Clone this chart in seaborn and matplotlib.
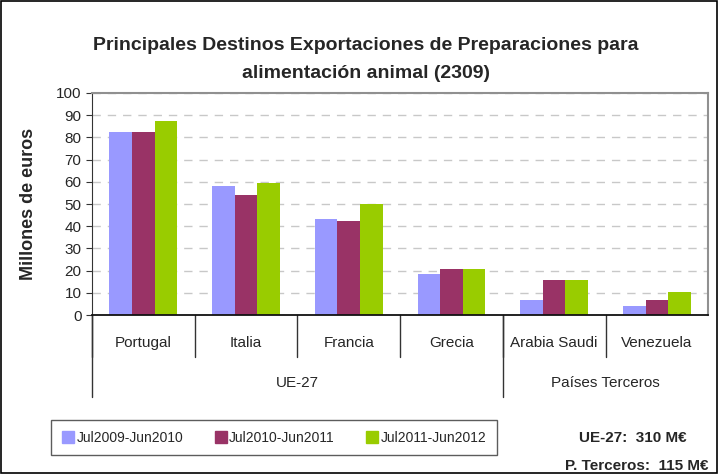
import pandas as pd
import matplotlib.pyplot as plt
import matplotlib.transforms as mtransforms
from matplotlib.lines import Line2D
import seaborn as sns

# data (millones de euros)
paises = ["Portugal", "Italia", "Francia", "Grecia", "Arabia Saudi", "Venezuela"]
periodos = ["Jul2009-Jun2010", "Jul2010-Jun2011", "Jul2011-Jun2012"]
v_2009_2010 = [82.5, 58.2, 43.3, 18.5, 6.8, 4.1]
v_2010_2011 = [82.5, 54.1, 42.4, 20.8, 15.8, 6.8]
v_2011_2012 = [87.5, 59.5, 50.1, 20.8, 15.8, 10.4]
grupos = ["UE-27", "Países Terceros"]
grupo_tamano = [4, 2]
colores = ["#9999FF", "#993366", "#99CC00"]

df = pd.DataFrame({
    "pais": paises * 3,
    "periodo": [p for p in periodos for _ in paises],
    "valor": v_2009_2010 + v_2010_2011 + v_2011_2012,
})

sns.set_style("white")
plt.rcParams['font.family'] = ['Liberation Sans', 'DejaVu Sans']

fig = plt.figure(figsize=(7.19, 4.74), dpi=100)
ax = fig.add_axes([0.128, 0.3354, 0.857, 0.4684])

sns.barplot(data=df, x="pais", y="valor", hue="periodo", palette=colores,
            width=0.66, gap=0, saturation=1, linewidth=0, ax=ax, legend=False)

ax.set_xlim(-0.5, len(paises) - 0.5)
ax.set_ylim(0, 100)
ax.set_yticks(range(0, 101, 10))
ax.tick_params(axis="y", labelsize=11, length=4, direction="out", left=True, color="#333333")
ax.set_xticks([])
ax.set_xlabel("")
ax.set_ylabel("Millones de euros", fontsize=13, fontweight="bold", labelpad=14)
ax.grid(axis="y", color="#c8c8c8", linestyle=(0, (6, 5)), linewidth=1)
ax.set_axisbelow(True)
for side in ["top", "right"]:
    ax.spines[side].set_color("#909090")
    ax.spines[side].set_linewidth(1.5)
ax.spines["left"].set_color("#333333")
ax.spines["bottom"].set_color("#111111")
ax.spines["bottom"].set_linewidth(1.3)

# category labels in two levels
trans = mtransforms.blended_transform_factory(ax.transData, ax.transAxes)
for i, p in enumerate(paises):
    ax.text(i, -0.125, p, transform=trans, ha="center", va="center", fontsize=11)
for i in range(len(paises)):
    ax.plot([i - 0.5, i - 0.5], [0, -0.19], transform=trans, color="#333333", lw=1, clip_on=False)
inicio = -0.5
for g, n in zip(grupos, grupo_tamano):
    ax.plot([inicio, inicio], [0, -0.37], transform=trans, color="#333333", lw=1, clip_on=False)
    ax.text(inicio + n / 2, -0.305, g, transform=trans, ha="center", va="center", fontsize=11)
    inicio += n

fig.text(0.509, 0.905, "Principales Destinos Exportaciones de Preparaciones para",
         ha="center", va="center", fontsize=14, fontweight="bold")
fig.text(0.509, 0.845, "alimentación animal (2309)",
         ha="center", va="center", fontsize=14, fontweight="bold")

handles = [Line2D([], [], marker="s", linestyle="", markersize=8, markerfacecolor=c,
                  markeredgecolor=c) for c in colores]
leg = fig.legend(handles, periodos, loc="center", ncol=3,
                 bbox_to_anchor=(0.381, 0.0765), fontsize=10, frameon=True,
                 fancybox=False, edgecolor="#333333", handletextpad=0.1,
                 columnspacing=2.2, borderpad=0.75, handlelength=1)
leg.get_frame().set_linewidth(1)

fig.text(0.955, 0.076, "UE-27:  310 M€", ha="right", va="center", fontsize=11,
         fontweight="bold")
fig.text(0.985, 0.017, "P. Terceros:  115 M€", ha="right", va="center", fontsize=11,
         fontweight="bold")

fig.patches.append(plt.Rectangle((0.002, 0.002), 0.995, 0.995, transform=fig.transFigure,
                                 fill=False, edgecolor="black", lw=1.2))

fig.savefig("out.png", dpi=100)
